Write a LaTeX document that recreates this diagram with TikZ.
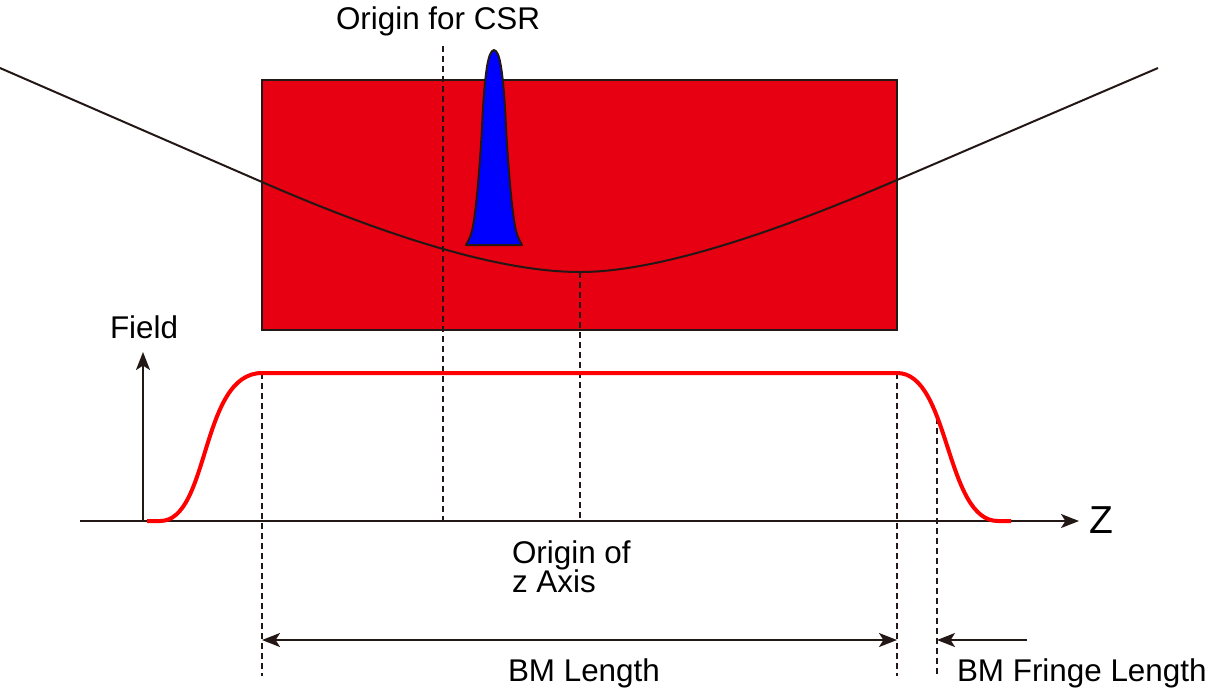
\documentclass[tikz,border=0pt]{standalone}
\usepackage{fontspec}
\setmainfont{Liberation Sans}
\usetikzlibrary{arrows.meta}
\definecolor{ink}{HTML}{231815}
\definecolor{magred}{HTML}{E60012}
\definecolor{fieldred}{HTML}{FF0000}
\definecolor{bunch}{HTML}{0000FF}
\begin{document}
\begin{tikzpicture}[x=0.5pt,y=-0.5pt,
  lbl/.style={anchor=base west,inner sep=0pt,outer sep=0pt,font=\fontsize{15.7}{18}\selectfont},
  guide/.style={ink,line width=1pt,dash pattern=on 3pt off 2pt},
  tip/.style={-{Stealth[length=9pt,width=7pt,inset=2.2pt]}},
  axisline/.style={ink,line width=1pt},
  beam/.style={ink,line width=1pt},
  fieldcurve/.style={fieldred,line width=2pt},
  magnetbox/.style={draw=ink,fill=magred,line width=1pt,inner sep=0pt,outer sep=0pt,
    minimum width=317.5pt,minimum height=125pt}]
\useasboundingbox (0,0) rectangle (1208,692);

% magnet
\node[magnetbox] (magnet) at (579.5,205) {};

% electron trajectory
\coordinate (bl) at (0,68);
\coordinate (ein) at (262,182);
\coordinate (bmin) at (580,272);
\coordinate (eout) at (897,180);
\coordinate (br) at (1158,68);
\draw[beam] (bl) -- (ein) .. controls (400,242) and (506,272) .. (bmin)
  .. controls (648.7,272) and (754.3,241.3) .. (eout) -- (br);

% bunch
\filldraw[fill=bunch,draw=ink,line width=1pt,line join=round]
  plot[smooth,tension=0.55] coordinates {
   (466,245) (472,231) (476.5,200) (480.8,148) (483.5,100) (486.5,70) (489.8,55)
   (494,50) (498.2,55) (501.5,70) (504.5,100) (507.2,148) (511.5,200) (516,231) (522,245)} -- cycle;

% labels
\node[lbl] (csr) at (336,29) {Origin for CSR};
\node[lbl] (field) at (110,338) {Field};
\node[lbl] (orig1) at (512,563) {Origin of};
\node[lbl] (orig2) at (512,592) {z Axis};
\node[lbl] (bml) at (508,681) {BM Length};
\node[lbl] (bmf) at (957,681) {BM Fringe Length};
\node[anchor=base west,inner sep=0pt,font=\fontsize{19.5}{22}\selectfont] (zlab) at (1089,533) {Z};

% axes
\coordinate (zstart) at (80,521);
\coordinate (zend) at (1079,521);
\draw[axisline,tip] (zstart) -- (zend);
\coordinate (fbase) at (143,521);
\coordinate (ftop) at (143,352);
\draw[axisline,tip] (fbase) -- (ftop);

% guide lines
\coordinate (g1t) at (443,46);   \coordinate (g1b) at (443,521);
\coordinate (g2b) at (580,521);
\coordinate (g3t) at (262,373);  \coordinate (g3b) at (262,676);
\coordinate (g4t) at (897,373);  \coordinate (g4b) at (897,676);
\coordinate (g5t) at (937,418);  \coordinate (g5b) at (937,676);
\draw[guide] (g1t) -- (g1b);
\draw[guide] (bmin) -- (g2b);
\draw[guide] (g3t) -- (g3b);
\draw[guide] (g4t) -- (g4b);
\draw[guide] (g5t) -- (g5b);

% field profile
\coordinate (f0) at (147,521);
\coordinate (f1) at (262,373);
\coordinate (f2) at (897,373);
\coordinate (f3) at (1011,521);
\draw[fieldcurve] (f0) -- (160,521) .. controls (210,521) and (200,373) .. (f1) -- (f2)
  .. controls (950,373) and (945,521) .. (998,521) -- (f3);

% dimension arrows
\coordinate (bm1) at (262,640);
\coordinate (bm2) at (897,640);
\draw[axisline,{Stealth[length=9pt,width=7pt,inset=2.2pt]}-{Stealth[length=9pt,width=7pt,inset=2.2pt]}] (bm1) -- (bm2);
\coordinate (fr1) at (1027,640);
\coordinate (fr2) at (937,640);
\draw[axisline,tip] (fr1) -- (fr2);
\end{tikzpicture}
\end{document}
